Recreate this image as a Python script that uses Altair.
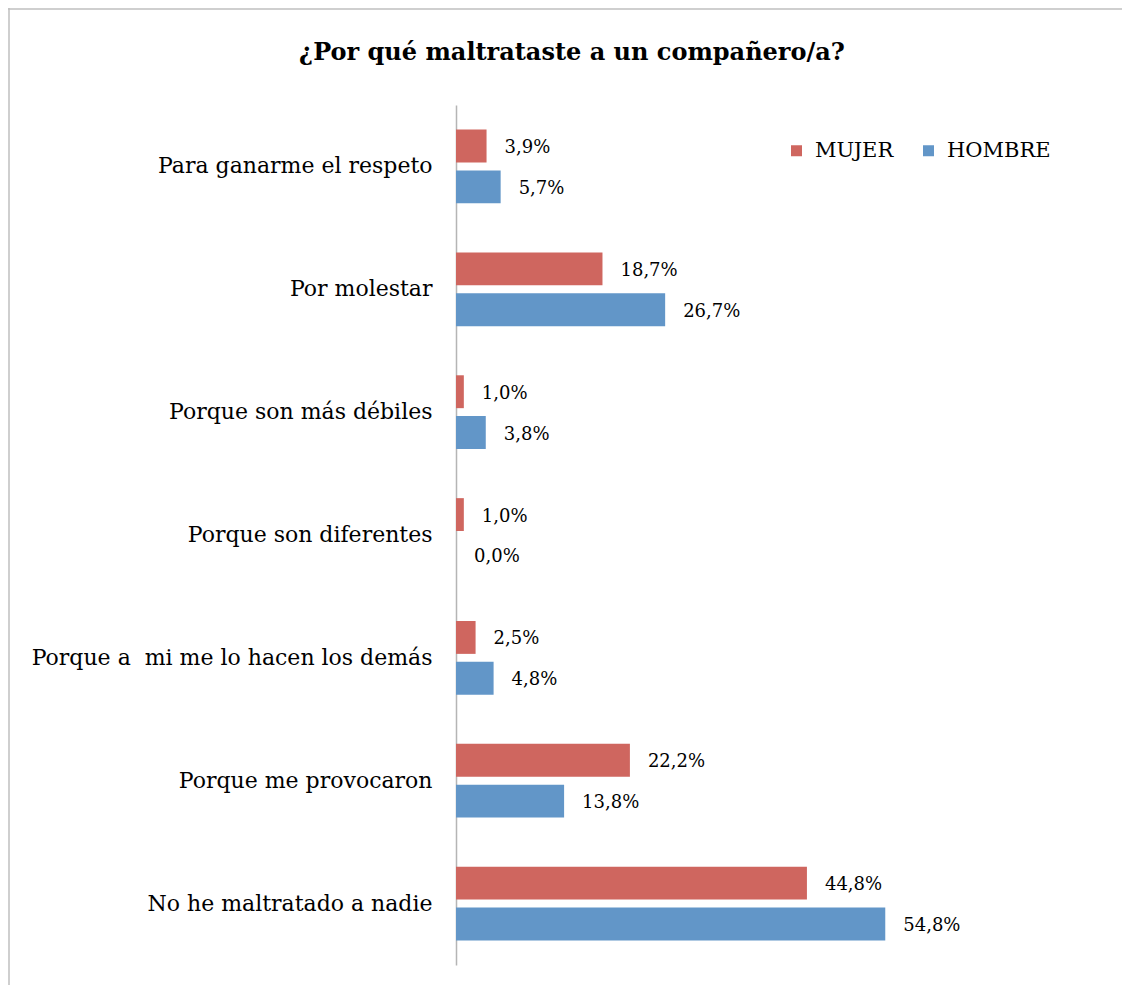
import altair as alt
import pandas as pd

categories = [
    "Para ganarme el respeto",
    "Por molestar",
    "Porque son más débiles",
    "Porque son diferentes",
    "Porque a\u00a0 mi me lo hacen los demás",
    "Porque me provocaron",
    "No he maltratado a nadie",
]
mujer = [3.9, 18.7, 1.0, 1.0, 2.5, 22.2, 44.8]
hombre = [5.7, 26.7, 3.8, 0.0, 4.8, 13.8, 54.8]
series = ["MUJER", "HOMBRE"]
colors = ["#CF665F", "#6296C8"]
title_text = "¿Por qué maltrataste a un compañero/a?"

rows = []
for c, m, h in zip(categories, mujer, hombre):
    for s, v in zip(series, [m, h]):
        rows.append({"cat": c, "serie": s, "val": v / 100,
                     "lbl": f"{v:.1f}%".replace(".", ",")})
df = pd.DataFrame(rows)

FONT = "DejaVu Serif"

base = alt.Chart(df).encode(
    y=alt.Y("cat:N", sort=categories,
            scale=alt.Scale(paddingInner=0.4, paddingOuter=0.2),
            axis=alt.Axis(title=None, ticks=False, labelPadding=24,
                          labelFontSize=22, labelFont=FONT, labelColor="#000000",
                          domainColor="#B5B5B5", domainWidth=1.5, labelLimit=600)),
    yOffset=alt.YOffset("serie:N", sort=series, scale=alt.Scale(paddingInner=0.195)),
)

bars = base.mark_bar().encode(
    x=alt.X("val:Q", scale=alt.Scale(domain=[0, 0.6]), axis=None),
    color=alt.Color("serie:N", sort=series,
                    scale=alt.Scale(domain=series, range=colors),
                    legend=alt.Legend(title=None, orient="none", legendX=330, legendY=35,
                                      direction="horizontal", symbolType="square",
                                      symbolSize=121, symbolStrokeWidth=0,
                                      labelFont=FONT, labelFontSize=21,
                                      labelColor="#000000", labelOffset=8,
                                      columnPadding=24, padding=0)),
)

text = base.mark_text(align="left", baseline="middle", dx=18, dy=2, font=FONT,
                      fontSize=18, color="#000000").encode(
    x=alt.X("val:Q"), text="lbl:N"
)

frame_df = pd.DataFrame({"a": [0]})
top_line = alt.Chart(frame_df).mark_rule(color="#BFBFBF", strokeWidth=1.5).encode(
    x=alt.value(-448), x2=alt.value(720), y=alt.value(-96))
left_line = alt.Chart(frame_df).mark_rule(color="#BFBFBF", strokeWidth=1.5).encode(
    x=alt.value(-447), y=alt.value(-97), y2=alt.value(900))

chart = alt.layer(bars, text, top_line, left_line).properties(
    width=470, height=860,
    title=alt.TitleParams(title_text, font=FONT, fontSize=24, fontWeight="bold",
                          anchor="middle", dx=-119, offset=-77, baseline="alphabetic",
                          color="#000000"),
    autosize=alt.AutoSizeParams(type="none"),
    padding={"left": 448, "top": 97, "right": 196, "bottom": 20},
).configure_view(stroke=None)

chart.save("out.html", embed_options={"renderer": "svg", "actions": False})
